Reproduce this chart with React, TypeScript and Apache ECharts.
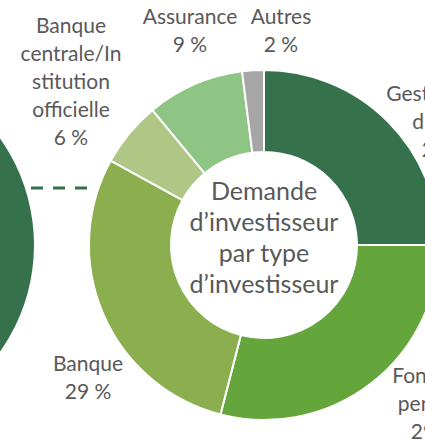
import React, { useEffect, useRef } from "react";
import * as echarts from "echarts";

const categories = [
  "Gestionnaire\nd’actifs",
  "Fonds de\npension",
  "Banque",
  "Banque\ncentrale/In\nstitution\nofficielle",
  "Assurance",
  "Autres",
];
const values = [25, 29, 29, 6, 9, 2];
const colors = ["#35714A", "#64A63B", "#8BAE4E", "#AFC685", "#8EC585", "#A6A6A6"];
const centerTitle = "Demande\nd’investisseur\npar type\nd’investisseur";

// label anchor positions (layout only)
const labelPos: [number, number][] = [
  [445, 120],
  [434, 402],
  [88, 376],
  [71, 80],
  [190, 29],
  [281, 29],
];

export default function App() {
  const ref = useRef<HTMLDivElement>(null);
  useEffect(() => {
    document.body.style.margin = "0";
    const chart = echarts.init(ref.current!, null, { renderer: "svg" });
    const font = "Lato, 'Open Sans', sans-serif";
    chart.setOption({
      animation: false,
      backgroundColor: "#ffffff",
      textStyle: { fontFamily: font },
      series: [
        {
          type: "pie",
          silent: true,
          center: [-150, 245],
          radius: [0, 184],
          label: { show: false },
          labelLine: { show: false },
          data: [{ value: 1, name: "", itemStyle: { color: colors[0] } }],
        },
        {
          type: "pie",
          center: [264, 245],
          radius: [93, 175],
          startAngle: 90,
          clockwise: true,
          avoidLabelOverlap: false,
          minShowLabelAngle: 0,
          itemStyle: { borderColor: "#ffffff", borderWidth: 2 },
          label: {
            show: true,
            position: "outside",
            alignTo: "none",
            overflow: "none",
            formatter: (p: any) => `${p.name}\n${p.value} %`,
            fontSize: 21,
            lineHeight: 28,
            color: "#595959",
            fontFamily: font,
            align: "center",
          },
          labelLine: { show: false },
          labelLayout: (p: any) => {
            const pos = labelPos[p.dataIndex];
            return { x: pos[0], y: pos[1], align: "center", verticalAlign: "middle", hideOverlap: false };
          },
          data: categories.map((c, i) => ({
            name: c,
            value: values[i],
            itemStyle: { color: colors[i] },
          })),
        },
      ],
      graphic: [
        {
          type: "text",
          x: 264,
          y: 236,
          style: {
            text: centerTitle,
            fontSize: 25,
            lineHeight: 31,
            fill: "#595959",
            fontFamily: font,
            align: "center",
            verticalAlign: "middle",
          },
        },
        {
          type: "line",
          shape: { x1: 31, y1: 188, x2: 90, y2: 188 },
          style: { stroke: "#35714A", lineWidth: 3, lineDash: [12, 10] },
        },
      ],
    });
    return () => chart.dispose();
  }, []);
  return (
    <div
      ref={ref}
      style={{ position: "absolute", left: 0, top: 0, width: 425, height: 443 }}
    />
  );
}
